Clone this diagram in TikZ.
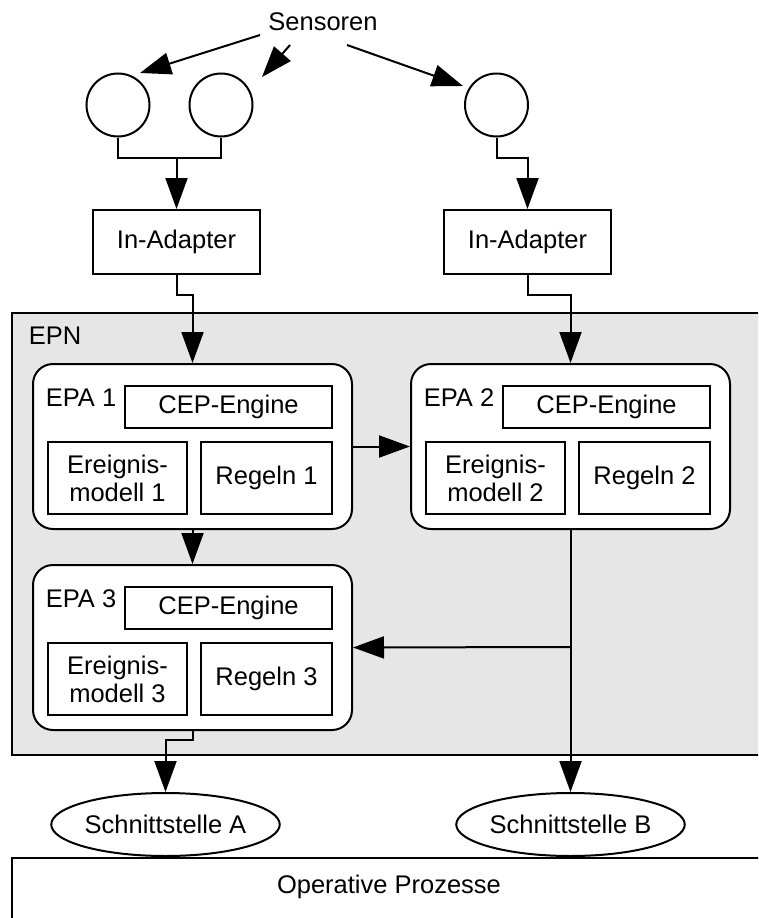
\documentclass[tikz,border=0pt]{standalone}
\usepackage{fontspec}
\setmainfont{Liberation Sans}
\usetikzlibrary{arrows.meta,shapes.geometric}

\definecolor{epngray}{RGB}{230,230,230}

% one event processing agent: frame, label and its three parts
\newcommand\epablock[3]{%
  \node[epabox] (epa#1) at (#2+159.5,#3+82.5) {};
  \node (lab#1) at (#2+48,#3+34) {EPA #1};
  \node[part,minimum width=207pt,minimum height=42pt] (cep#1) at (#2+195.5,#3+43) {CEP-Engine};
  \node[part,minimum width=139pt,minimum height=72pt] (erg#1) at (#2+84.5,#3+114) {Ereignis-\\modell #1};
  \node[part,minimum width=131pt,minimum height=72pt] (reg#1) at (#2+233.5,#3+114) {Regeln #1};
}

\begin{document}
\begin{tikzpicture}[x=1pt,y=-1pt,
  font=\fontsize{25.5}{28}\selectfont,
  line width=2pt,
  arr/.style={-{Triangle[length=31pt,width=22pt]}},
  sensor/.style={draw,circle,minimum size=63pt,inner sep=0pt},
  adapter/.style={draw,fill=white,minimum width=167pt,minimum height=64pt,inner sep=0pt},
  part/.style={draw,fill=white,inner sep=0pt,align=center},
  epabox/.style={draw,fill=white,rounded corners=20pt,minimum width=319pt,minimum height=165pt,inner sep=0pt},
  iface/.style={draw,ellipse,fill=white,minimum width=228pt,minimum height=63pt,inner sep=0pt},
]
\useasboundingbox (0,0) rectangle (758,918);
\clip (0,0) rectangle (758,918);

% event processing network region
\node[draw,fill=epngray,anchor=north west,minimum width=800pt,minimum height=442pt,inner sep=0pt] (epn) at (10.6,312) {};
\node (epnlabel) at (55,336) {EPN};

% operative processes region
\node[draw,anchor=north west,minimum width=800pt,minimum height=120pt,inner sep=0pt] (ops) at (10.6,857) {};
\node (opslabel) at (389,887) {Operative Prozesse};

% sensors
\node (sens) at (323,22) {Sensoren};
\node[sensor] (c1) at (118,105) {};
\node[sensor] (c2) at (221,105) {};
\node[sensor] (c3) at (496.5,105) {};

% adapters
\node[adapter] (ad1) at (176.5,242) {In-Adapter};
\node[adapter] (ad2) at (527.5,242) {In-Adapter};

% agents
\epablock{1}{33}{364}
\epablock{2}{411}{364}
\epablock{3}{33}{565}

% interfaces
\node[iface] (sa) at (165.5,824.5) {Schnittstelle A};
\node[iface] (sb) at (570.5,824.5) {Schnittstelle B};

% sensor arrows
\coordinate (s1a) at (260,35);
\coordinate (s1b) at (140,73);
\coordinate (s2a) at (290,45);
\coordinate (s2b) at (262,77);
\coordinate (s3a) at (347,45);
\coordinate (s3b) at (463,86);
\draw[arr] (s1a) -- (s1b);
\draw[arr] (s2a) -- (s2b);
\draw[arr] (s3a) -- (s3b);

% sensors to adapters
\coordinate (j1) at (176.5,158);
\draw (c1.south) |- (j1) -| (c2.south);
\draw[arr] (j1) -- (ad1.north);
\coordinate (j2) at (527.5,158);
\draw[arr] (c3.south) |- (j2) -- (ad2.north);

% adapters to agents
\coordinate (k1) at (192.5,295);
\draw[arr] (ad1.south) |- (k1) -- (epa1.north);
\coordinate (k2) at (570.5,295);
\draw[arr] (ad2.south) |- (k2) -- (epa2.north);

% between agents
\draw[arr] (epa1.east) -- (epa2.west);
\draw[arr] (epa1.south) -- (epa3.north);
\coordinate (m) at (570.5,647);
\draw (epa2.south) -- (m);
\draw[arr] (m) -- (epa3.east);

% agents to interfaces
\draw[arr] (m) -- (sb.north);
\coordinate (k3) at (165.5,740);
\draw[arr] (epa3.south) |- (k3) -- (sa.north);
\end{tikzpicture}
\end{document}
